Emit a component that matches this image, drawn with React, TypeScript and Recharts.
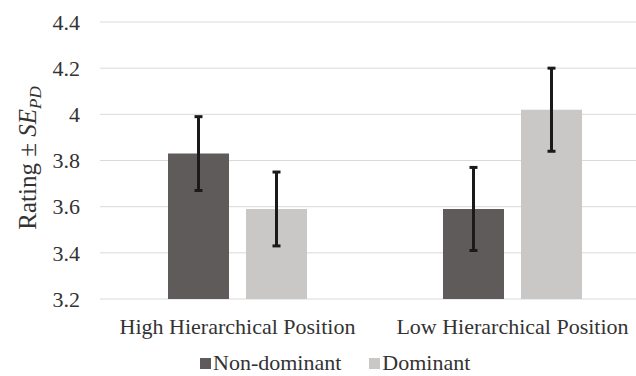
import { Bar, BarChart, CartesianGrid, ErrorBar, XAxis, YAxis } from "recharts";

const categories = ["High Hierarchical Position", "Low Hierarchical Position"];
const nonDominant = [3.83, 3.59];
const nonDominantSE = [0.16, 0.18];
const dominant = [3.59, 4.02];
const dominantSE = [0.16, 0.18];
const yTicks = [3.2, 3.4, 3.6, 3.8, 4, 4.2, 4.4];

const seriesNames = ["Non-dominant", "Dominant"];
const seriesColors = ["#5e5b5a", "#c9c8c7"];

const FONT = '"Liberation Serif", "Times New Roman", serif';
const TEXT = "#333333";

const data = categories.map((name, i) => ({
  name,
  nonDominant: nonDominant[i],
  nonDominantSE: nonDominantSE[i],
  dominant: dominant[i],
  dominantSE: dominantSE[i],
}));

// y axis title with italic SE and subscript PD
const YTitle = () => (
  <text
    x={36}
    y={158}
    transform="rotate(-90, 36, 158)"
    textAnchor="middle"
    fontFamily={FONT}
    fontSize={25}
    fill={TEXT}
  >
    Rating ± <tspan fontStyle="italic">SE</tspan>
    <tspan fontStyle="italic" fontSize={17} dy={5}>
      PD
    </tspan>
  </text>
);

export default function App() {
  return (
    <div
      style={{
        position: "fixed",
        left: 0,
        top: 0,
        width: 636,
        height: 376,
        overflow: "hidden",
        background: "#fff",
      }}
    >
      <BarChart
        width={660}
        height={376}
        data={data}
        margin={{ top: 22, right: 10, left: 0, bottom: 47 }}
        barSize={61}
        barGap={17}
      >
        <CartesianGrid vertical={false} stroke="#d9d9d9" strokeWidth={1} />
        <XAxis
          dataKey="name"
          height={30}
          axisLine={false}
          tickLine={false}
          tickMargin={13}
          tick={{ fontFamily: FONT, fontSize: 22, fill: TEXT }}
        />
        <YAxis
          width={100}
          domain={[3.2, 4.4]}
          ticks={yTicks}
          axisLine={false}
          tickLine={false}
          tickMargin={14}
          tick={{ fontFamily: FONT, fontSize: 22, fill: TEXT }}
          label={{ content: () => <YTitle /> }}
        />
        <Bar dataKey="nonDominant" fill={seriesColors[0]} isAnimationActive={false}>
          <ErrorBar dataKey="nonDominantSE" direction="y" width={4} stroke="#1a1a1a" strokeWidth={3} />
        </Bar>
        <Bar dataKey="dominant" fill={seriesColors[1]} isAnimationActive={false}>
          <ErrorBar dataKey="dominantSE" direction="y" width={4} stroke="#1a1a1a" strokeWidth={3} />
        </Bar>
      </BarChart>

      {/* legend */}
      <div
        style={{
          position: "absolute",
          left: 200,
          top: 354,
          display: "flex",
          alignItems: "center",
          fontFamily: FONT,
          fontSize: 22,
          lineHeight: "18px",
          color: TEXT,
        }}
      >
        {seriesNames.map((n, i) => (
          <div key={n} style={{ display: "flex", alignItems: "center", marginRight: 28 }}>
            <span
              style={{
                display: "inline-block",
                width: 11,
                height: 11,
                background: seriesColors[i],
                marginRight: 2,
              }}
            />
            <span>{n}</span>
          </div>
        ))}
      </div>
    </div>
  );
}
